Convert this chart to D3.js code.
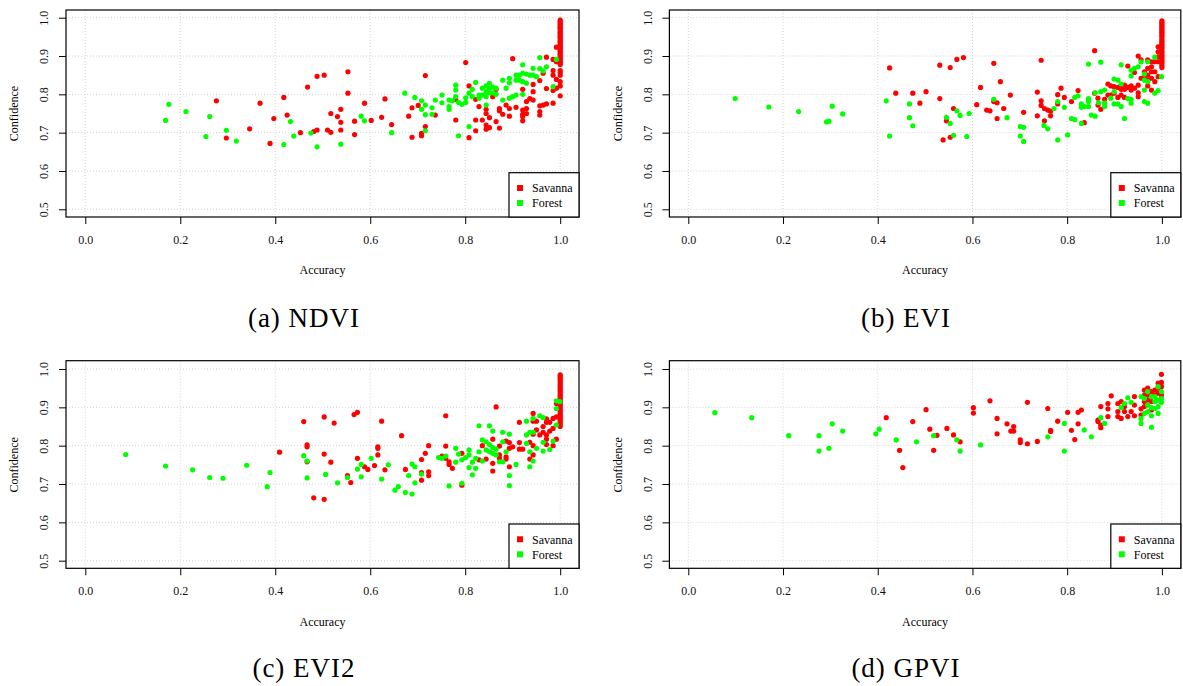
<!DOCTYPE html>
<html><head><meta charset="utf-8">
<script src="https://cdn.jsdelivr.net/npm/d3@7"></script>
<style>body{margin:0;background:#fff}text{font-family:"Liberation Serif","Times New Roman",serif}</style>
</head><body><svg id="c" width="1183" height="686"></svg>
<script>
const xTicks=[0,0.2,0.4,0.6,0.8,1.0];
const yTicks=[0.5,0.6,0.7,0.8,0.9,1.0];
const panelCaptions=["(a) NDVI","(b) EVI","(c) EVI2","(d) GPVI"];
const legendLabels=["Savanna","Forest"];
const xLabel="Accuracy", yLabel="Confidence";

const ndviSavanna=[[0.276,0.783],[0.297,0.686],[0.346,0.710],[0.368,0.777],[0.389,0.672],[0.397,0.737],[0.418,0.792],[0.425,0.746],[0.453,0.700],[0.468,0.819],[0.481,0.703],[0.488,0.707],[0.488,0.847],[0.503,0.850],[0.510,0.707],[0.517,0.750],[0.517,0.701],[0.531,0.742],[0.538,0.761],[0.538,0.727],[0.538,0.707],[0.553,0.859],[0.553,0.803],[0.567,0.730],[0.567,0.695],[0.588,0.777],[0.602,0.732],[0.624,0.740],[0.631,0.788],[0.645,0.721],[0.681,0.743],[0.688,0.765],[0.688,0.688],[0.701,0.771],[0.708,0.698],[0.708,0.692],[0.716,0.849],[0.716,0.716],[0.737,0.746],[0.780,0.787],[0.780,0.733],[0.801,0.883],[0.808,0.687],[0.808,0.822],[0.822,0.787],[0.822,0.733],[0.822,0.705],[0.829,0.768],[0.836,0.733],[0.844,0.761],[0.844,0.750],[0.844,0.720],[0.844,0.709],[0.851,0.739],[0.851,0.713],[0.858,0.794],[0.865,0.813],[0.865,0.729],[0.872,0.763],[0.872,0.757],[0.872,0.712],[0.879,0.748],[0.886,0.772],[0.893,0.763],[0.893,0.743],[0.900,0.893],[0.907,0.766],[0.921,0.813],[0.921,0.759],[0.921,0.748],[0.921,0.742],[0.921,0.731],[0.929,0.781],[0.929,0.763],[0.929,0.750],[0.936,0.789],[0.943,0.826],[0.943,0.807],[0.943,0.785],[0.957,0.836],[0.957,0.755],[0.957,0.746],[0.957,0.770],[0.964,0.855],[0.964,0.772],[0.971,0.897],[0.971,0.815],[0.971,0.775],[0.985,0.891],[0.985,0.862],[0.985,0.850],[0.985,0.810],[0.985,0.777],[0.992,0.923],[0.992,0.885],[0.992,0.839],[0.992,0.816],
[1,0.796],[1,0.822],[1,0.833],[1,0.850],[1,0.857],[1,0.862],[1,0.878],[1,0.882],[1,0.886],[1,0.891],[1,0.894],[1,0.899],[1,0.903],[1,0.906],[1,0.911],[1,0.914],[1,0.918],[1,0.923],[1,0.926],[1,0.930],[1,0.935],[1,0.938],[1,0.942],[1,0.947],[1,0.950],[1,0.954],[1,0.959],[1,0.962],[1,0.966],[1,0.971],[1,0.974],[1,0.978],[1,0.983],[1,0.986],[1,0.990],[1,0.994]];
const ndviForest=[[0.169,0.732],[0.176,0.774],[0.212,0.755],[0.254,0.690],[0.262,0.742],[0.297,0.706],[0.318,0.678],[0.418,0.669],[0.432,0.729],[0.439,0.691],[0.475,0.699],[0.488,0.663],[0.538,0.670],[0.581,0.743],[0.588,0.731],[0.645,0.700],[0.673,0.803],[0.694,0.792],[0.708,0.783],[0.716,0.772],[0.708,0.761],[0.716,0.747],[0.716,0.705],[0.730,0.765],[0.730,0.748],[0.737,0.785],[0.751,0.798],[0.751,0.778],[0.766,0.785],[0.766,0.768],[0.766,0.761],[0.773,0.783],[0.780,0.824],[0.780,0.811],[0.780,0.794],[0.786,0.779],[0.786,0.692],[0.793,0.774],[0.801,0.791],[0.801,0.779],[0.808,0.803],[0.808,0.716],[0.815,0.813],[0.815,0.794],[0.822,0.831],[0.829,0.798],[0.829,0.790],[0.836,0.816],[0.836,0.798],[0.844,0.822],[0.844,0.807],[0.844,0.794],[0.844,0.772],[0.851,0.829],[0.851,0.816],[0.851,0.804],[0.858,0.819],[0.858,0.804],[0.865,0.816],[0.865,0.800],[0.879,0.837],[0.879,0.785],[0.886,0.816],[0.893,0.842],[0.893,0.830],[0.893,0.790],[0.900,0.794],[0.907,0.850],[0.907,0.837],[0.907,0.798],[0.914,0.850],[0.914,0.837],[0.921,0.877],[0.921,0.855],[0.921,0.833],[0.921,0.800],[0.929,0.853],[0.929,0.829],[0.936,0.850],[0.943,0.868],[0.943,0.850],[0.950,0.846],[0.957,0.896],[0.957,0.867],[0.964,0.861],[0.971,0.872],[0.985,0.820],[0.992,0.891]];

const eviSavanna=[[0.425,0.869],[0.438,0.803],[0.474,0.803],[0.489,0.777],[0.502,0.807],[0.531,0.876],[0.531,0.789],[0.545,0.731],[0.553,0.870],[0.553,0.688],[0.560,0.763],[0.538,0.681],[0.567,0.891],[0.581,0.896],[0.609,0.773],[0.617,0.818],[0.630,0.759],[0.637,0.757],[0.645,0.881],[0.645,0.781],[0.652,0.778],[0.652,0.737],[0.659,0.833],[0.666,0.763],[0.680,0.798],[0.708,0.753],[0.737,0.806],[0.737,0.744],[0.745,0.889],[0.745,0.783],[0.745,0.771],[0.752,0.763],[0.752,0.731],[0.759,0.759],[0.765,0.756],[0.765,0.744],[0.780,0.799],[0.780,0.775],[0.787,0.816],[0.794,0.792],[0.809,0.781],[0.823,0.810],[0.836,0.726],[0.858,0.914],[0.858,0.803],[0.865,0.790],[0.865,0.772],[0.871,0.761],[0.879,0.787],[0.886,0.827],[0.886,0.798],[0.892,0.822],[0.892,0.798],[0.899,0.820],[0.899,0.803],[0.907,0.818],[0.907,0.792],[0.914,0.824],[0.914,0.813],[0.914,0.798],[0.921,0.824],[0.921,0.813],[0.921,0.792],[0.928,0.874],[0.928,0.818],[0.935,0.822],[0.935,0.811],[0.942,0.857],[0.942,0.816],[0.950,0.900],[0.950,0.824],[0.950,0.794],[0.950,0.804],[0.956,0.842],[0.956,0.890],[0.963,0.846],[0.963,0.859],[0.970,0.890],[0.970,0.868],[0.970,0.850],[0.970,0.837],[0.970,0.822],[0.978,0.885],[0.978,0.872],[0.978,0.859],[0.978,0.842],[0.978,0.811],[0.985,0.885],[0.985,0.859],[0.985,0.833],[0.992,0.924],[0.992,0.911],[0.992,0.885],[0.992,0.846],[0.992,0.898],
[1,0.870],[1,0.875],[1,0.881],[1,0.886],[1,0.890],[1,0.895],[1,0.899],[1,0.904],[1,0.909],[1,0.913],[1,0.918],[1,0.922],[1,0.927],[1,0.931],[1,0.936],[1,0.940],[1,0.945],[1,0.950],[1,0.954],[1,0.959],[1,0.963],[1,0.967],[1,0.972],[1,0.976],[1,0.980],[1,0.984],[1,0.988],[1,0.992]];
const eviForest=[[0.099,0.789],[0.170,0.767],[0.233,0.755],[0.292,0.728],[0.297,0.730],[0.304,0.769],[0.326,0.749],[0.418,0.783],[0.425,0.691],[0.467,0.775],[0.467,0.739],[0.474,0.718],[0.545,0.740],[0.553,0.724],[0.560,0.693],[0.567,0.757],[0.574,0.745],[0.588,0.690],[0.593,0.750],[0.645,0.787],[0.673,0.739],[0.701,0.716],[0.701,0.691],[0.708,0.714],[0.708,0.677],[0.751,0.719],[0.759,0.710],[0.772,0.763],[0.780,0.781],[0.780,0.681],[0.794,0.766],[0.801,0.694],[0.809,0.737],[0.816,0.734],[0.816,0.792],[0.823,0.796],[0.830,0.775],[0.830,0.766],[0.830,0.724],[0.837,0.768],[0.845,0.789],[0.845,0.781],[0.845,0.768],[0.845,0.879],[0.851,0.746],[0.859,0.804],[0.859,0.743],[0.866,0.778],[0.871,0.884],[0.871,0.807],[0.879,0.811],[0.879,0.777],[0.879,0.768],[0.892,0.790],[0.899,0.840],[0.899,0.807],[0.899,0.775],[0.907,0.837],[0.907,0.775],[0.914,0.827],[0.914,0.768],[0.914,0.877],[0.921,0.737],[0.928,0.789],[0.935,0.863],[0.935,0.848],[0.935,0.787],[0.935,0.777],[0.942,0.868],[0.950,0.872],[0.956,0.885],[0.963,0.853],[0.963,0.837],[0.963,0.811],[0.963,0.781],[0.970,0.885],[0.970,0.777],[0.985,0.897],[0.985,0.803],[0.992,0.810],[0.999,0.846],[0.970,0.833]];

const evi2Savanna=[[0.409,0.783],[0.460,0.863],[0.467,0.802],[0.467,0.797],[0.467,0.758],[0.481,0.664],[0.503,0.875],[0.503,0.778],[0.503,0.660],[0.517,0.757],[0.524,0.859],[0.552,0.722],[0.559,0.704],[0.566,0.881],[0.573,0.887],[0.573,0.767],[0.588,0.745],[0.595,0.738],[0.609,0.748],[0.616,0.797],[0.616,0.793],[0.616,0.776],[0.624,0.864],[0.631,0.737],[0.666,0.826],[0.674,0.738],[0.708,0.764],[0.708,0.730],[0.708,0.710],[0.716,0.780],[0.723,0.800],[0.723,0.732],[0.723,0.722],[0.751,0.773],[0.759,0.878],[0.759,0.799],[0.759,0.767],[0.766,0.758],[0.766,0.751],[0.773,0.741],[0.793,0.780],[0.793,0.697],[0.829,0.763],[0.836,0.800],[0.844,0.765],[0.858,0.817],[0.858,0.754],[0.858,0.734],[0.865,0.901],[0.872,0.799],[0.872,0.776],[0.872,0.767],[0.886,0.812],[0.886,0.771],[0.886,0.765],[0.893,0.808],[0.893,0.793],[0.893,0.745],[0.900,0.797],[0.914,0.861],[0.914,0.808],[0.914,0.791],[0.921,0.791],[0.936,0.809],[0.936,0.765],[0.943,0.884],[0.943,0.864],[0.943,0.830],[0.943,0.800],[0.943,0.776],[0.950,0.864],[0.950,0.841],[0.957,0.828],[0.964,0.850],[0.964,0.835],[0.971,0.870],[0.971,0.861],[0.971,0.828],[0.971,0.817],[0.971,0.803],[0.978,0.861],[0.978,0.838],[0.985,0.871],[0.985,0.845],[0.985,0.800],[0.992,0.910],[0.992,0.875],[0.992,0.817],
[1,0.850],[1,0.856],[1,0.861],[1,0.866],[1,0.871],[1,0.876],[1,0.881],[1,0.886],[1,0.891],[1,0.896],[1,0.901],[1,0.906],[1,0.911],[1,0.916],[1,0.921],[1,0.926],[1,0.931],[1,0.936],[1,0.941],[1,0.946],[1,0.951],[1,0.956],[1,0.961],[1,0.966],[1,0.971],[1,0.976],[1,0.981],[1,0.985]];
const evi2Forest=[[0.085,0.777],[0.169,0.747],[0.226,0.737],[0.262,0.717],[0.290,0.715],[0.340,0.749],[0.383,0.693],[0.389,0.730],[0.460,0.774],[0.467,0.760],[0.467,0.716],[0.506,0.725],[0.531,0.703],[0.552,0.717],[0.573,0.739],[0.581,0.751],[0.581,0.719],[0.602,0.767],[0.624,0.713],[0.638,0.750],[0.652,0.684],[0.659,0.693],[0.674,0.678],[0.681,0.722],[0.688,0.674],[0.688,0.752],[0.694,0.745],[0.694,0.703],[0.708,0.726],[0.744,0.769],[0.751,0.767],[0.759,0.773],[0.766,0.695],[0.780,0.793],[0.780,0.757],[0.786,0.778],[0.793,0.702],[0.793,0.763],[0.801,0.769],[0.808,0.789],[0.808,0.776],[0.808,0.743],[0.815,0.757],[0.815,0.724],[0.822,0.767],[0.822,0.741],[0.829,0.852],[0.829,0.784],[0.836,0.815],[0.836,0.760],[0.844,0.810],[0.844,0.789],[0.851,0.852],[0.851,0.803],[0.851,0.784],[0.858,0.838],[0.858,0.795],[0.858,0.780],[0.865,0.791],[0.865,0.776],[0.872,0.758],[0.879,0.835],[0.879,0.810],[0.879,0.758],[0.886,0.784],[0.893,0.830],[0.893,0.722],[0.893,0.696],[0.907,0.751],[0.929,0.864],[0.929,0.828],[0.929,0.806],[0.936,0.835],[0.936,0.784],[0.936,0.745],[0.943,0.871],[0.943,0.835],[0.943,0.760],[0.950,0.793],[0.957,0.878],[0.964,0.873],[0.964,0.809],[0.964,0.786],[0.978,0.790],[0.985,0.812],[0.992,0.917],[0.992,0.897],[0.992,0.854],[0.999,0.915]];

const gpviSavanna=[[0.418,0.873],[0.446,0.788],[0.453,0.743],[0.474,0.863],[0.502,0.894],[0.510,0.843],[0.518,0.788],[0.525,0.827],[0.546,0.845],[0.560,0.828],[0.574,0.810],[0.602,0.899],[0.602,0.885],[0.637,0.917],[0.652,0.871],[0.652,0.831],[0.673,0.857],[0.681,0.838],[0.687,0.850],[0.687,0.838],[0.701,0.815],[0.701,0.808],[0.716,0.913],[0.716,0.805],[0.737,0.811],[0.759,0.897],[0.765,0.840],[0.765,0.837],[0.780,0.864],[0.801,0.887],[0.809,0.840],[0.816,0.816],[0.823,0.857],[0.823,0.887],[0.830,0.893],[0.865,0.867],[0.865,0.863],[0.871,0.902],[0.871,0.854],[0.871,0.847],[0.886,0.910],[0.886,0.896],[0.886,0.876],[0.893,0.930],[0.907,0.910],[0.907,0.889],[0.907,0.876],[0.914,0.915],[0.914,0.871],[0.921,0.902],[0.921,0.889],[0.928,0.876],[0.935,0.889],[0.942,0.928],[0.942,0.906],[0.942,0.878],[0.956,0.896],[0.956,0.880],[0.963,0.945],[0.963,0.932],[0.963,0.915],[0.970,0.950],[0.970,0.932],[0.970,0.919],[0.978,0.941],[0.978,0.915],[0.985,0.945],[0.985,0.932],[0.992,0.963],[0.992,0.950],[0.992,0.937],[0.999,0.986],[0.999,0.965],[0.999,0.954],[0.999,0.932],[0.963,0.902],[0.978,0.893]];
const gpviForest=[[0.056,0.886],[0.134,0.873],[0.212,0.826],[0.276,0.826],[0.276,0.786],[0.297,0.793],[0.304,0.857],[0.326,0.838],[0.396,0.831],[0.403,0.843],[0.439,0.815],[0.482,0.810],[0.518,0.826],[0.567,0.815],[0.574,0.786],[0.617,0.802],[0.759,0.823],[0.794,0.858],[0.794,0.786],[0.836,0.841],[0.851,0.823],[0.871,0.873],[0.879,0.858],[0.914,0.899],[0.921,0.910],[0.928,0.925],[0.935,0.913],[0.956,0.928],[0.956,0.871],[0.956,0.858],[0.963,0.923],[0.963,0.884],[0.970,0.906],[0.970,0.889],[0.978,0.928],[0.978,0.899],[0.978,0.878],[0.978,0.848],[0.985,0.915],[0.985,0.897],[0.992,0.954],[0.992,0.919],[0.992,0.884],[0.992,0.902],[0.999,0.941],[0.999,0.923],[0.999,0.913],[0.985,0.928],[0.970,0.941]];

const seriesColors=["#ff0000","#00ff00"];

const layout=[
 {savanna:ndviSavanna, forest:ndviForest, left:66, right:579, top:10, bottom:217, x0:85.3, x1:560.2, yLo:209.3, yHi:17.7, capX:304, capY:327},
 {savanna:eviSavanna, forest:eviForest, left:669.4, right:1180.8, top:10, bottom:217, x0:688.3, x1:1161.9, yLo:209.3, yHi:17.7, capX:906, capY:327},
 {savanna:evi2Savanna, forest:evi2Forest, left:66, right:579, top:360.7, bottom:568.3, x0:85.3, x1:560.2, yLo:560.7, yHi:369, capX:304, capY:677},
 {savanna:gpviSavanna, forest:gpviForest, left:669.4, right:1180.8, top:360.7, bottom:568.3, x0:688.3, x1:1161.9, yLo:560.7, yHi:369, capX:906, capY:677}
];

const svg=d3.select("#c");
layout.forEach((p,i)=>{
  const x=d3.scaleLinear().domain([0,1]).range([p.x0,p.x1]);
  const y=d3.scaleLinear().domain([0.5,1]).range([p.yLo,p.yHi]);
  const g=svg.append("g");
  // grid
  g.selectAll(".gx").data(xTicks).enter().append("line")
    .attr("x1",d=>x(d)).attr("x2",d=>x(d)).attr("y1",p.top).attr("y2",p.bottom)
    .attr("stroke","#d3d3d3").attr("stroke-width",1).attr("stroke-dasharray","1,2");
  g.selectAll(".gy").data(yTicks).enter().append("line")
    .attr("y1",d=>y(d)).attr("y2",d=>y(d)).attr("x1",p.left).attr("x2",p.right)
    .attr("stroke","#d3d3d3").attr("stroke-width",1).attr("stroke-dasharray","1,2");
  // points
  [[p.savanna,0],[p.forest,1]].forEach(([data,k])=>{
    g.selectAll(".pt"+k).data(data).enter().append("circle")
      .attr("cx",d=>x(d[0])).attr("cy",d=>y(d[1])).attr("r",2.6)
      .attr("fill",seriesColors[k]);
  });
  // box
  g.append("rect").attr("x",p.left).attr("y",p.top).attr("width",p.right-p.left).attr("height",p.bottom-p.top)
    .attr("fill","none").attr("stroke","#000").attr("stroke-width",1.2);
  // x axis
  const ax=g.append("g").attr("transform",`translate(0,${p.bottom})`)
    .call(d3.axisBottom(x).tickValues(xTicks).tickFormat(d3.format(".1f")).tickSize(7).tickSizeOuter(0));
  ax.select(".domain").remove();
  ax.selectAll("text").attr("y",23).attr("dy","0.35em").style("font-size","12px")
    .style("font-family",'"Liberation Serif",serif').attr("fill","#111");
  // y axis
  const ay=g.append("g").attr("transform",`translate(${p.left},0)`)
    .call(d3.axisLeft(y).tickValues(yTicks).tickFormat(d3.format(".1f")).tickSize(7).tickSizeOuter(0));
  ay.select(".domain").remove();
  ay.selectAll("text").attr("x",0).attr("y",0).attr("dy","0.35em")
    .attr("transform",d=>`translate(-22,0) rotate(-90)`).attr("text-anchor","middle")
    .style("font-size","12px").style("font-family",'"Liberation Serif",serif').attr("fill","#111");
  // axis titles
  g.append("text").attr("x",(p.left+p.right)/2).attr("y",p.bottom+53).attr("dy","0.35em")
    .attr("text-anchor","middle").style("font-size","12px").text(xLabel);
  g.append("text").attr("transform",`translate(${p.left-52},${(p.yLo+p.yHi)/2}) rotate(-90)`).attr("dy","0.35em")
    .attr("text-anchor","middle").style("font-size","12px").text(yLabel);
  // legend
  const lw=70, lh=44.3;
  const lg=g.append("g").attr("transform",`translate(${p.right-lw},${p.bottom-lh})`);
  lg.append("rect").attr("width",lw).attr("height",lh).attr("fill","#fff").attr("stroke","#000").attr("stroke-width",1.2);
  legendLabels.forEach((lab,k)=>{
    lg.append("rect").attr("x",8).attr("y",15.3+15*k-3).attr("width",6).attr("height",6).attr("fill",seriesColors[k]);
    lg.append("text").attr("x",23).attr("y",15.3+15*k).attr("dy","0.35em").style("font-size","12px").text(lab);
  });
  // caption
  svg.append("text").attr("x",p.capX).attr("y",p.capY).attr("text-anchor","middle")
    .style("font-size","27px").style("letter-spacing","1px").text(panelCaptions[i]);
});
</script></body></html>
